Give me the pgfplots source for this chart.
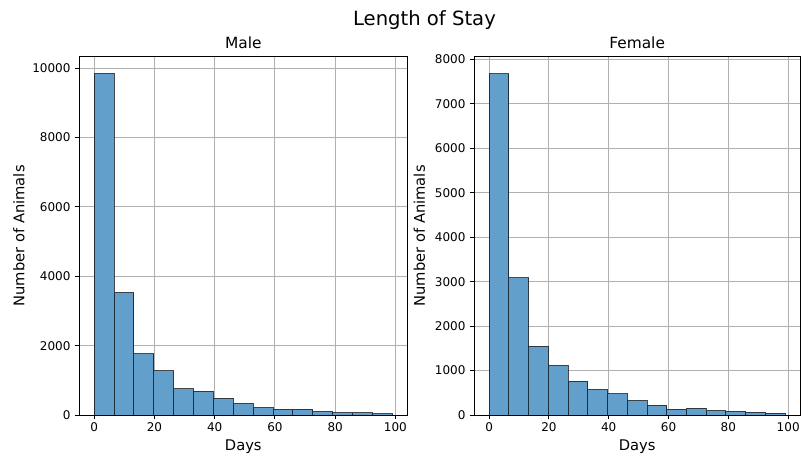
\documentclass[border=0pt]{standalone}
\usepackage{pgfplots}
\pgfplotsset{compat=1.18}
\usepackage{fontspec}
\setmainfont{DejaVu Sans}
\definecolor{barfill}{RGB}{98,160,203}
\definecolor{gridgray}{RGB}{176,176,176}
\pgfplotsset{
  histax/.style={
    scale only axis,
    anchor=south west,
    height=358.3pt,
    xmin=-4.95, xmax=103.95,
    ymin=0,
    xtick={0,20,40,60,80,100},
    grid=major,
    major grid style={gridgray, line width=1pt},
    axis line style={black, line width=1pt},
    tick style={black, line width=1pt},
    major tick length=4.3pt,
    tick align=outside,
    xtick pos=bottom, ytick pos=left,
    /pgf/number format/assume math mode=true,
    /pgf/number format/set thousands separator={},
    scaled y ticks=false,
    ticklabel style={font=\fontsize{12}{14}\selectfont},
    yticklabel style={anchor=east, inner sep=0pt, xshift=-4.3pt},
    xticklabel style={anchor=base, inner sep=0pt, yshift=-12.4pt},
    every axis title shift=0pt,
    title style={at={(axis description cs:0.5,1)}, anchor=base, yshift=7.7pt, inner sep=0pt, font=\fontsize{15.4}{18}\selectfont},
    xlabel style={at={(axis description cs:0.5,0)}, anchor=base, yshift=-35.7pt, inner sep=0pt, font=\fontsize{14.7}{17}\selectfont},
    ylabel style={anchor=base, inner sep=0pt, font=\fontsize{14.7}{17}\selectfont},
    xlabel={Days},
    ylabel={Number of Animals},
  },
  histbar/.style={ybar interval, fill=barfill, draw=black, draw opacity=0.7, line width=1pt},
}
\begin{document}
\begin{tikzpicture}
\path[use as bounding box] (0,0) rectangle (804pt,453pt);
\node[anchor=base, inner sep=0pt, font=\fontsize{19.6}{23}\selectfont] at (424.5pt,427.3pt) {Length of Stay};
\begin{axis}[histax, at={(79.3pt,38pt)}, width=328pt, ymax=10332,
  ytick={0,2000,4000,6000,8000,10000},
  title={Male},
  ylabel style={at={(axis description cs:-0.1677,0.5)}}]
\addplot[histbar] coordinates {
(0,9841) (6.6,3530) (13.2,1760) (19.8,1270) (26.4,750) (33.0,678) (39.6,482) (46.2,327) (52.8,212) (59.4,164) (66.0,164) (72.6,100) (79.2,58) (85.8,58) (92.4,29) (99.0,0)
};
\end{axis}
\begin{axis}[histax, at={(474.3pt,38pt)}, width=325.7pt, ymax=8064,
  ytick={0,1000,2000,3000,4000,5000,6000,7000,8000},
  title={Female},
  ylabel style={at={(axis description cs:-0.1514,0.5)}}]
\addplot[histbar] coordinates {
(0,7680) (6.6,3086) (13.2,1547) (19.8,1111) (26.4,758) (33.0,571) (39.6,473) (46.2,323) (52.8,218) (59.4,128) (66.0,150) (72.6,98) (79.2,83) (85.8,60) (92.4,38) (99.0,0)
};
\end{axis}
\end{tikzpicture}
\end{document}
